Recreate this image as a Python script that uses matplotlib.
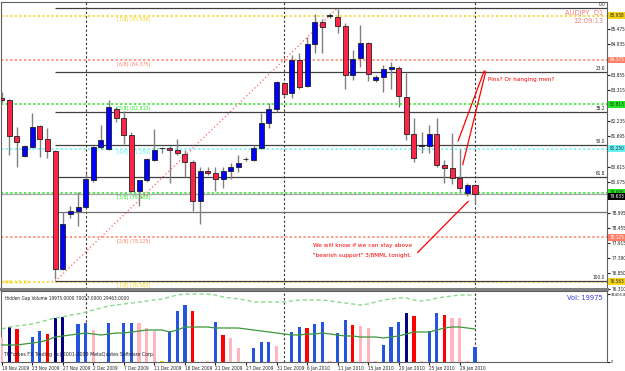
import numpy as np
import matplotlib
matplotlib.use("Agg")
import matplotlib.pyplot as plt

# ---- daily AUDJPY candles (bar index 0 = 19 Nov 2009) ----
opens = [83.044, 82.949, 81.708, 81.005, 81.321, 82.060, 81.602, 81.181, 76.996, 78.930,
         79.036, 79.176, 80.161, 81.321, 81.251, 82.657, 82.341, 81.743, 79.739, 80.126,
         80.864, 81.269, 81.286, 81.216, 81.075, 80.794, 79.387, 80.477, 80.407, 80.196,
         80.477, 80.618, 80.892, 80.864, 81.286, 82.165, 82.657, 83.572, 83.220, 84.380,
         83.466, 84.943, 85.716, 85.927, 85.892, 85.576, 83.853, 84.451, 84.978, 83.677,
         83.783, 84.064, 84.099, 83.079, 81.778, 81.356, 81.356, 81.778, 80.688, 80.583,
         80.231, 79.669, 79.950]
highs = [83.255, 83.009, 82.024, 81.392, 82.517, 82.095, 81.989, 81.216, 79.000, 79.211,
         79.704, 80.407, 81.356, 82.095, 82.974, 82.728, 82.587, 81.849, 80.161, 80.934,
         81.954, 81.321, 81.356, 81.602, 81.216, 80.864, 80.618, 80.618, 80.618, 80.618,
         80.759, 81.040, 80.970, 81.392, 82.517, 82.868, 83.642, 83.607, 84.556, 84.626,
         85.189, 85.998, 85.822, 86.033, 86.174, 85.681, 84.732, 85.611, 85.013, 83.853,
         84.204, 84.310, 84.169, 83.923, 82.341, 81.849, 82.095, 82.341, 80.864, 81.813,
         81.251, 80.055, 79.985]
lows = [82.903, 81.040, 80.618, 80.970, 81.286, 80.970, 80.934, 76.645, 76.961, 78.789,
        78.508, 79.141, 80.090, 81.251, 81.216, 82.200, 81.427, 79.704, 79.211, 80.090,
        80.829, 81.110, 80.055, 81.040, 80.266, 79.036, 78.579, 80.337, 79.739, 79.879,
        80.196, 80.442, 80.829, 80.829, 81.251, 81.989, 82.552, 83.114, 83.044, 83.361,
        83.431, 84.626, 84.626, 85.857, 85.330, 83.361, 83.677, 84.134, 83.642, 83.607,
        83.255, 83.361, 82.728, 81.567, 80.794, 81.110, 81.110, 80.618, 80.055, 79.985,
        79.704, 79.563, 79.282]
closes = [82.974, 81.708, 81.497, 81.356, 82.024, 81.602, 81.181, 76.996, 78.579, 79.036,
          79.176, 80.196, 81.321, 81.567, 82.728, 82.341, 81.743, 79.739, 80.126, 80.899,
          81.216, 81.286, 81.216, 81.110, 80.794, 79.387, 80.477, 80.407, 80.196, 80.477,
          80.618, 80.759, 80.899, 81.286, 82.165, 82.657, 83.607, 83.185, 84.380, 83.431,
          84.943, 85.716, 85.541, 85.945, 85.576, 83.853, 84.415, 84.978, 83.888, 83.783,
          84.064, 84.134, 83.114, 81.778, 80.934, 81.392, 81.778, 80.688, 80.583, 80.231,
          79.879, 79.950, 79.633]

# ---- Hidden Gap Volume pane ----
volume = [34300, 48300, 45500, 0, 34300, 42700, 38500, 60900, 62300, 0,
          52500, 53900, 44100, 0, 53900, 0, 53900, 53900, 53900, 46900,
          42700, 700, 42700, 70700, 79100, 70700, 0, 1000, 55300, 37100,
          32900, 18900, 0, 18900, 27300, 27300, 21700, 0, 41300, 48300,
          46900, 52500, 55300, 1000, 39900, 58100, 51100, 49700, 46900, 700,
          23100, 48300, 55300, 67900, 63700, 700, 42700, 67900, 65100, 60900,
          60900, 700, 19975]
vol_kind = ["p", "n", "r", "p", "b", "b", "r", "n", "n", "p",
            "b", "b", "p", "p", "b", "p", "b", "b", "p", "p",
            "p", "y", "b", "b", "b", "r", "p", "p", "b", "r",
            "p", "p", "p", "b", "b", "b", "p", "p", "b", "b",
            "r", "b", "b", "p", "b", "b", "r", "p", "p", "p",
            "b", "b", "b", "n", "r", "p", "b", "b", "r", "p",
            "p", "p", "b"]
vol_upper = [45500, 48300, 49700, 51100, 52500, 55300, 58100, 60900, 62300, 65100,
             66500, 69300, 72100, 74900, 77700, 79100, 80500, 81900, 83300, 84700,
             86100, 87500, 90300, 93100, 94500, 94500, 94500, 94500, 93100, 90300,
             88900, 87500, 86100, 83300, 83300, 83300, 83300, 83300, 84700, 86100,
             86100, 86100, 86100, 84700, 83300, 81900, 80500, 79100, 80500, 83300,
             86100, 87500, 88900, 88900, 86100, 84700, 86100, 88900, 90300, 91700,
             93100, 93100, 93100]
vol_avg = [23100, 23100, 23100, 24500, 25900, 27300, 30100, 34300, 35700, 37100,
           38500, 39900, 38500, 37100, 38500, 39900, 39900, 41300, 42700, 44100,
           44100, 44100, 41300, 44100, 48300, 48300, 48300, 48300, 46900, 46900,
           46900, 46900, 45500, 44100, 42700, 41300, 39900, 38500, 37100, 37100,
           38500, 38500, 39900, 38500, 37100, 35700, 35700, 34300, 34300, 34300,
           32900, 34300, 35700, 38500, 41300, 41300, 41300, 44100, 46900, 48300,
           48300, 46900, 45500]

date_idx = list(range(0, 61, 4))
date_labels = ["19 Nov 2009", "23 Nov 2009", "27 Nov 2009", "2 Dec 2009", "7 Dec 2009",
               "11 Dec 2009", "16 Dec 2009", "21 Dec 2009", "27 Dec 2009", "31 Dec 2009",
               "6 Jan 2010", "11 Jan 2010", "15 Jan 2010", "20 Jan 2010", "25 Jan 2010",
               "29 Jan 2010"]
month_sep = [11, 37, 62]

# Murrey Math levels
mml_names = ["[7/8]", "[6/8]", "[5/8]", "[4/8]", "[3/8]", "[2/8]", "[1/8]"]
mml_levels = [85.938, 84.375, 82.813, 81.250, 79.688, 78.125, 76.563]
mml_colors = ["#F2D21B", "#FF7F66", "#22E622", "#66F2F2", "#22E622", "#FF7F66", "#F2D21B"]

# Fibonacci retracement (anchors: bar 7 low -> bar 44 high)
fib_low, fib_high = 76.57, 86.21
fib_start, fib_end = 7, 44
fib_ratios = [0.0, 0.236, 0.382, 0.5, 0.618, 1.0]
fib_names = ["0.0", "23.6", "38.2", "50.0", "61.8", "100.0"]
extra_level = 79.018

price_ticks = [85.475, 84.935, 83.855, 83.315, 82.235, 81.695, 80.615, 80.075,
               78.995, 78.455, 77.915, 77.390, 76.850, 76.310]

# hand-drawn annotation lines (bar index, price)
note_lines = [([63.2, 59.8], [83.99, 81.53]),
              ([63.4, 60.4], [83.96, 80.69]),
              ([54.5, 61.1], [77.59, 79.39])]

W, H = 625, 371
fig = plt.figure(figsize=(W / 100, H / 100), dpi=100, facecolor="white")
ax = fig.add_axes([1 / W, (H - 289) / H, 606 / W, 287 / H])
axv = fig.add_axes([1 / W, (H - 362) / H, 606 / W, 71 / H])

n = len(opens)
x = np.arange(n)
xlim = (-0.09, 79.29)
AX_FS = 3.4
SMALL = dict(fontsize=AX_FS, fontstretch="condensed")
NOTE = dict(fontsize=4.6, fontstretch="condensed")

# --- candles
for i in range(n):
    o, h, l, c = opens[i], highs[i], lows[i], closes[i]
    ax.vlines(i, l, h, color="#808080", lw=1, zorder=3)
    up = c >= o
    ax.bar(i, max(abs(c - o), 0.004), bottom=min(o, c), width=0.66,
           color="#0000FF" if up else "#FF2448", edgecolor="#202020",
           linewidth=0.6, zorder=4)

# --- Murrey math lines
for name, lv, col in zip(mml_names, mml_levels, mml_colors):
    ax.axhline(lv, color=col, lw=1.1, ls=(0, (1.5, 1.5)), zorder=1)
    ax.text(15.1, lv - 0.06, f"{name} ({lv:.3f})", color=col, fontsize=3.8,
            fontstretch="condensed", va="top", ha="left", zorder=2)
    txtc = "white" if col == "#FF7F66" else "#303030"
    ax.text(1.004, lv, f"{lv:.3f}", transform=ax.get_yaxis_transform(), **SMALL,
            color=txtc, va="center", ha="left", clip_on=False, zorder=6,
            bbox=dict(boxstyle="square,pad=0.2", fc=col, ec="none"))
ax.text(0.003, 76.54, "MML V1.23", transform=ax.get_yaxis_transform(), color="#F2D21B",
        fontsize=3.8, fontstretch="condensed", va="center", ha="left")

# --- fibonacci
ax.plot([fib_start, fib_end], [fib_low, fib_high], color="#FF6060", lw=0.9,
        ls=(0, (1, 2)), zorder=2)
for r, nm in zip(fib_ratios, fib_names):
    lv = fib_high - r * (fib_high - fib_low)
    ax.hlines(lv, fib_start, xlim[1], color="#404040", lw=0.9, zorder=2)
    ax.text(0.997, lv + 0.04, nm, transform=ax.get_yaxis_transform(), **SMALL,
            ha="right", va="bottom", color="#202020")
ax.hlines(extra_level, fib_start, xlim[1], color="#707070", lw=0.9, zorder=2)

# bid line + current price box
ax.axhline(closes[-1], color="#A8A8A8", lw=0.9, zorder=1)
ax.text(1.004, closes[-1] - 0.08, f"{closes[-1]:.3f}", transform=ax.get_yaxis_transform(),
        **SMALL, color="white", va="center", ha="left",
        clip_on=False, zorder=7, bbox=dict(boxstyle="square,pad=0.2", fc="black", ec="none"))

# month separators
for s in month_sep:
    ax.axvline(s, color="#303030", lw=0.8, ls=(0, (2, 2)), zorder=1)
    axv.axvline(s, color="#303030", lw=0.8, ls=(0, (2, 2)), zorder=1)

# annotations
for xs, ys in note_lines:
    ax.plot(xs, ys, color="#FF0000", lw=0.9, zorder=5)
ax.text(63.7, 83.68, "Pins? Or hanging men?", color="#FF0000", **NOTE,
        va="center", ha="left")
ax.text(40.8, 77.84, "We will know if we can stay above", color="#FF0000",
        **NOTE, va="center", ha="left")
ax.text(40.8, 77.49, "\"bearish support\" 3/8MML tonight.", color="#FF0000",
        **NOTE, va="center", ha="left")
ax.text(0.9934, 0.962, "AUDJPY  D1", transform=ax.transAxes, color="#F08080",
        fontsize=5.4, fontstretch="condensed", ha="right", va="center")
ax.text(0.9934, 0.935, "12:09:13", transform=ax.transAxes, color="#F08080",
        fontsize=5.4, fontstretch="condensed", ha="right", va="center")

ax.set_xlim(*xlim)
ax.set_ylim(76.30, 86.42)
ax.yaxis.tick_right()
ax.set_yticks(price_ticks)
ax.set_yticklabels([f"{t:.3f}" for t in price_ticks], fontstretch="condensed")
ax.tick_params(axis="y", labelsize=AX_FS, length=2, pad=1, colors="#202020")
ax.set_xticks([])
for sp in ax.spines.values():
    sp.set_color("#606060")
    sp.set_linewidth(0.8)
ax.spines["bottom"].set_color("#808080")
ax.spines["bottom"].set_linewidth(2.2)

# --- volume pane
kind_colors = {"b": "#2454E0", "n": "#000080", "r": "#FF0000", "p": "#FFB6C1", "y": "#E8D000"}
axv.bar(x, volume, width=0.42, color=[kind_colors[k] for k in vol_kind], zorder=3)
axv.plot(x, vol_upper, color="#8FD88F", lw=1.0, ls=(0, (3, 2)), zorder=4)
axv.plot(x, vol_avg, color="#3C963C", lw=0.9, zorder=4)
axv.text(0.007, 0.9, "Hidden Gap Volume 19975.0000 70057.0000 29463.0000",
         transform=axv.transAxes, **SMALL, color="#202020", va="center")
axv.text(0.005, 0.1, "Tt Forbes FX Trading  (c) 2001-2009 MetaQuotes Software Corp.",
         transform=axv.transAxes, fontsize=3.8, fontstretch="condensed",
         color="#202020", va="center")
axv.text(0.9934, 0.9, "Vol: 19975", transform=axv.transAxes, fontsize=5.4,
         fontstretch="condensed", color="#3A3AF0", ha="right", va="center")
axv.set_xlim(*xlim)
axv.set_ylim(-700, 98700)
axv.yaxis.tick_right()
axv.set_yticks([0, 94406.8])
axv.set_yticklabels(["0", "94406.8"], fontstretch="condensed")
axv.tick_params(axis="y", labelsize=3.0, length=2, pad=1, colors="#202020")
axv.set_xticks(date_idx)
axv.set_xticklabels(date_labels, ha="left", fontstretch="condensed")
axv.tick_params(axis="x", labelsize=AX_FS, length=2, pad=1, colors="#202020")
for sp in axv.spines.values():
    sp.set_color("#606060")
    sp.set_linewidth(0.8)

fig.savefig("out.png", dpi=100, facecolor="white")
